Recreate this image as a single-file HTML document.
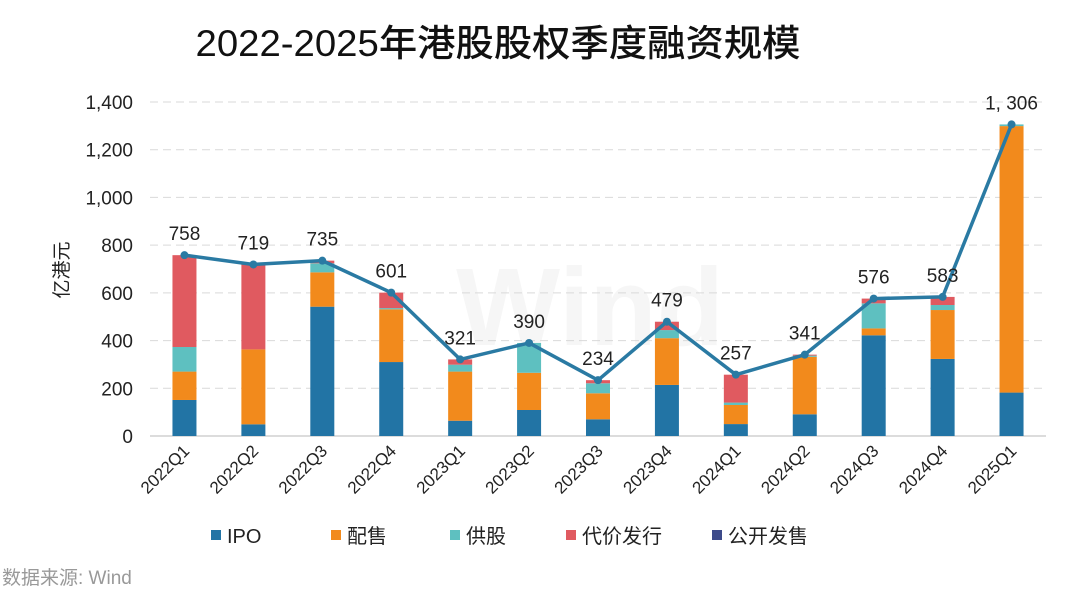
<!DOCTYPE html>
<html><head><meta charset="utf-8">
<style>
body{margin:0;background:#fff;width:1066px;height:599px;overflow:hidden;font-family:"Liberation Sans","Noto Sans CJK SC",sans-serif;}
</style></head><body>
<svg id="chart" width="1066" height="599" xmlns="http://www.w3.org/2000/svg" font-family="Liberation Sans, Noto Sans CJK SC, sans-serif">
<text x="498" y="56" font-size="37" text-anchor="middle" fill="#111" font-weight="500" textLength="605" lengthAdjust="spacingAndGlyphs">2022-2025年港股股权季度融资规模</text>
<text x="590" y="345" font-size="110" text-anchor="middle" fill="#f6f6f6" font-weight="bold">Wind</text>
<g id="grid"></g><g id="bars"></g><g id="line"></g><g id="labels"></g><g id="legend"></g>
<text transform="translate(68,270) rotate(-90)" font-size="19" text-anchor="middle" fill="#222">亿港元</text>
<text x="2" y="584" font-size="19" fill="#999">数据来源: Wind</text>
</svg>
<script>
const categories=["2022Q1","2022Q2","2022Q3","2022Q4","2023Q1","2023Q2","2023Q3","2023Q4","2024Q1","2024Q2","2024Q3","2024Q4","2025Q1"];
const ipo=[151,49,542,310,64,109,70,214,50,91,422,323,182];
const placing=[119,314,144,221,206,156,109,196,80,241,29,205,1117];
const rights=[103,0,38,5,29,125,42,34,10,5,105,21,7];
const consideration=[385,356,11,65,22,0,13,35,117,4,20,34,0];
const publicOffer=[0,0,0,0,0,0,0,0,0,0,0,0,0];
const totals=[758,719,735,601,321,390,234,479,257,341,576,583,1306];
const yTicks=[0,200,400,600,800,1000,1200,1400];
const seriesNames=["IPO","配售","供股","代价发行","公开发售"];
const colors=["#2274a5","#f28a1c","#5ec0c0","#e05a60","#3d4a8a"];
const NS="http://www.w3.org/2000/svg";
const x0=150,x1=1046,y0=436,yTop=102,yMax=1400;
const step=(x1-x0)/categories.length;
const xc=i=>x0+step*(i+0.5);
const ys=v=>y0-(v/yMax)*(y0-yTop);
function mk(tag,attrs,parent){const e=document.createElementNS(NS,tag);for(const k in attrs)e.setAttribute(k,attrs[k]);parent.appendChild(e);return e;}
const grid=document.getElementById('grid');
yTicks.forEach(t=>{
 if(t>0){const l=mk('line',{x1:x0,x2:x1,y1:ys(t),y2:ys(t),stroke:'#d9d9d9','stroke-dasharray':'8,5'},grid);
 
 }
 const tx=mk('text',{x:133,y:ys(t)+7,'font-size':19,'text-anchor':'end',fill:'#222'},grid);
 tx.textContent=t.toLocaleString('en-US');
 
 
});
const ax=mk('line',{x1:x0,x2:x1,y1:y0,y2:y0,stroke:'#d0d0d0','stroke-width':1.5},grid);


const bars=document.getElementById('bars');
const series=[ipo,placing,rights,consideration,publicOffer];
categories.forEach((c,i)=>{
 let acc=0;
 series.forEach((s,k)=>{
  const v=s[i]; if(v<=0)return;
  const r=mk('rect',{x:xc(i)-12,width:24,y:ys(acc+v),height:ys(acc)-ys(acc+v),fill:colors[k]},bars);
  
  
  acc+=v;
 });
 const t=mk('text',{transform:`translate(${xc(i)+6},452) rotate(-45)`,'font-size':17,'text-anchor':'end',fill:'#222'},bars);
 t.textContent=c;
 
 
});
const lg=document.getElementById('line');
const pts=totals.map((v,i)=>xc(i)+','+ys(v)).join(' ');
const pl=mk('polyline',{points:pts,fill:'none',stroke:'#2a7aa3','stroke-width':3.5,'stroke-linejoin':'round'},lg);


const lab=document.getElementById('labels');
totals.forEach((v,i)=>{
 const d=mk('circle',{cx:xc(i),cy:ys(v),r:4,fill:'#2a7aa3'},lg);
 
 
 const t=mk('text',{x:xc(i),y:ys(v)-15,'font-size':19,'text-anchor':'middle',fill:'#222'},lab);
 t.textContent=v.toLocaleString('en-US').replace(',',', ');
 
 
});
const leg=document.getElementById('legend');
const lx=[211,331,450,566,712];
seriesNames.forEach((n,k)=>{
 const r=mk('rect',{x:lx[k],y:530,width:10,height:10,fill:colors[k]},leg);
 
 
 const t=mk('text',{x:lx[k]+16,y:543,'font-size':20,fill:'#222'},leg);
 t.textContent=n;
 
 
});
</script>
</body></html>
